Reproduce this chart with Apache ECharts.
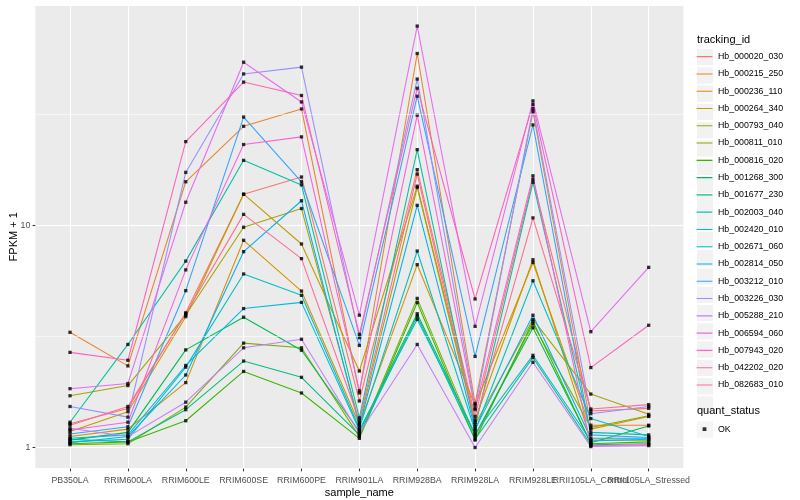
<!DOCTYPE html>
<html><head><meta charset="utf-8">
<script src="https://cdn.jsdelivr.net/npm/echarts@6/dist/echarts.min.js"></script>
<style>html,body{margin:0;padding:0;background:#fff}#c{width:800px;height:500px}</style>
</head><body><div id="c"></div>
<script>
const categories = ["PB350LA","RRIM600LA","RRIM600LE","RRIM600SE","RRIM600PE","RRIM901LA","RRIM928BA","RRIM928LA","RRIM928LE","RRII105LA_Control","RRII105LA_Stressed"];
const trackingIds = ["Hb_000020_030","Hb_000215_250","Hb_000236_110","Hb_000264_340","Hb_000793_040","Hb_000811_010","Hb_000816_020","Hb_001268_300","Hb_001677_230","Hb_002003_040","Hb_002420_010","Hb_002671_060","Hb_002814_050","Hb_003212_010","Hb_003226_030","Hb_005288_210","Hb_006594_060","Hb_007943_020","Hb_042202_020","Hb_082683_010"];
const colors = ["#F8766D","#EA8331","#D89000","#C09B00","#A3A500","#7CAE00","#39B600","#00BB4E","#00BF7D","#00C1A3","#00BFC4","#00BAE0","#00B0F6","#35A2FF","#9590FF","#C77CFF","#E76BF3","#FA62DB","#FF62BC","#FF6C91"];

const hb_000020_030 = [1.28, 1.50, 4.04, 13.8, 16.5, 1.62, 17.8, 1.38, 16.1, 1.46, 1.50];
const hb_000215_250 = [3.30, 2.33, 15.7, 27.9, 33.4, 1.76, 59.3, 1.58, 32.5, 1.26, 1.26];
const hb_000236_110 = [1.12, 1.21, 1.96, 8.56, 5.06, 1.27, 6.65, 1.55, 6.8, 1.21, 1.38];
const hb_000264_340 = [1.18, 1.45, 3.88, 13.8, 8.24, 2.21, 15.0, 1.33, 7.0, 1.08, 1.08];
const hb_000793_040 = [1.71, 1.90, 3.95, 9.8, 11.9, 1.29, 14.8, 1.27, 3.77, 1.74, 1.41];
const hb_000811_010 = [1.03, 1.04, 1.52, 2.95, 2.81, 1.12, 4.69, 1.12, 3.60, 1.23, 1.39];
const hb_000816_020 = [1.04, 1.06, 1.32, 2.20, 1.76, 1.10, 4.49, 1.08, 3.70, 1.04, 1.06];
const hb_001268_300 = [1.08, 1.17, 2.75, 3.86, 2.74, 1.18, 4.0, 1.14, 3.46, 1.05, 1.25];
const hb_001677_230 = [1.09, 1.06, 1.48, 2.45, 2.07, 1.14, 3.9, 1.09, 2.54, 1.03, 1.04];
const hb_002003_040 = [1.30, 2.91, 6.9, 19.6, 15.2, 1.36, 21.9, 1.24, 15.6, 1.17, 1.14];
const hb_002420_010 = [1.06, 1.09, 2.30, 6.04, 4.84, 1.22, 7.66, 1.19, 5.63, 1.35, 1.12];
const hb_002671_060 = [1.10, 1.14, 2.34, 4.22, 4.50, 1.20, 3.77, 1.16, 2.60, 1.07, 1.09];
const hb_002814_050 = [1.05, 1.12, 2.12, 7.61, 12.9, 1.25, 12.3, 1.21, 3.94, 1.10, 1.10];
const hb_003212_010 = [1.15, 1.24, 5.08, 30.7, 15.7, 2.88, 38.1, 2.57, 28.3, 1.14, 1.11];
const hb_003226_030 = [1.53, 1.37, 17.3, 48.0, 51.5, 3.12, 45.5, 1.50, 33.5, 1.42, 1.53];
const hb_005288_210 = [1.22, 1.12, 1.60, 2.81, 3.07, 1.16, 2.91, 1.00, 2.42, 1.01, 1.02];
const hb_006594_060 = [1.84, 1.94, 12.7, 54.2, 35.9, 3.94, 78.8, 3.51, 36.3, 3.32, 6.47];
const hb_007943_020 = [1.20, 1.30, 6.3, 23.1, 25.0, 1.80, 31.3, 1.48, 16.7, 1.02, 1.03];
const hb_042202_020 = [2.68, 2.47, 23.8, 44.1, 38.4, 3.23, 41.4, 4.66, 35.0, 2.29, 3.55];
const hb_082683_010 = [1.26, 1.53, 4.0, 11.2, 7.08, 1.32, 17.0, 1.30, 10.8, 1.49, 1.56];

const yMajorBreaks = [1, 10];
const yMinorBreaks = [Math.sqrt(10), Math.sqrt(1000)];

const seriesValues = [hb_000020_030, hb_000215_250, hb_000236_110, hb_000264_340, hb_000793_040,
  hb_000811_010, hb_000816_020, hb_001268_300, hb_001677_230, hb_002003_040, hb_002420_010,
  hb_002671_060, hb_002814_050, hb_003212_010, hb_003226_030, hb_005288_210, hb_006594_060,
  hb_007943_020, hb_042202_020, hb_082683_010];

const F = "'Liberation Sans', Arial, sans-serif";
const catIdx = categories.map((c, i) => i);
const evenIdx = catIdx.filter(i => i % 2 === 0);
const oddIdx = catIdx.filter(i => i % 2 === 1);

// log-range with ggplot's 5% expansion
const all = [].concat(...seriesValues);
const lo = Math.log10(Math.min(...all)), hi = Math.log10(Math.max(...all));
const pad = (hi - lo) * 0.05;
const yMin = Math.pow(10, lo - pad), yMax = Math.pow(10, hi + pad);

const linePath = 'path://M0,0h0.01v0.01h-0.01zM0.6,8.1h15.8v1.1h-15.8zM17,17.28h-0.01v-0.01h0.01z';
const sqPath = 'path://M0,0h0.01v0.01h-0.01zM6.6,6.74h3.8v3.8h-3.8zM17,17.28h-0.01v-0.01h0.01z';

const legendBase = {orient: 'vertical', left: 696, itemWidth: 17, itemHeight: 17.28, itemGap: 0,
  padding: 0, selectedMode: false, textStyle: {fontSize: 8.8, fontFamily: F, color: '#000'}};
const bgStyle = {color: '#F2F2F2', borderColor: '#fff', borderWidth: 1};

const series = trackingIds.map((id, k) => ({
  type: 'line', name: id, z: 2, silent: true, symbol: 'none',
  data: seriesValues[k].map((v, i) => [i, v]),
  lineStyle: {width: 1.07, color: colors[k]}, itemStyle: {color: colors[k]},
  emphasis: {disabled: true}
}));
series.push({
  type: 'scatter', name: 'OK', z: 3, silent: true, symbol: 'rect', symbolSize: 3.3,
  itemStyle: {color: '#000'},
  data: [].concat(...seriesValues.map(vals => vals.map((v, i) => [i, v])))
});
series.push({
  type: 'line', name: 'minor', z: 1, data: [], silent: true,
  markLine: {silent: true, symbol: 'none', animation: false, label: {show: false},
    lineStyle: {color: '#fff', width: 0.55, type: 'solid'},
    data: yMinorBreaks.map(v => ({yAxis: v}))}
});

const xLabelStyle = {formatter: v => categories[Math.round(v)], color: '#4D4D4D', fontSize: 8.8, margin: 7,
  fontFamily: F, showMinLabel: true, showMaxLabel: true, hideOverlap: false};

const chart = echarts.init(document.getElementById('c'), null, {renderer: 'canvas'});
chart.setOption({
  animation: false,
  textStyle: {fontFamily: F},
  title: [
    {text: 'tracking_id', left: 697, top: 34, padding: 0, textStyle: {fontSize: 11, fontWeight: 'normal', color: '#000', fontFamily: F}},
    {text: 'quant_status', left: 697, top: 405.5, padding: 0, textStyle: {fontSize: 11, fontWeight: 'normal', color: '#000', fontFamily: F}}
  ],
  grid: {left: 35.3, right: 116.6, top: 5, bottom: 31.4, show: true, backgroundColor: '#EBEBEB', borderWidth: 0,
    containLabel: false, outerBoundsMode: 'none'},
  legend: [
    Object.assign({}, legendBase, {top: 48, z: 4, itemStyle: bgStyle,
      textStyle: {fontSize: 8.8, fontFamily: F, color: 'rgba(0,0,0,0)'},
      data: trackingIds.map(n => ({name: n, icon: 'rect'}))}),
    Object.assign({}, legendBase, {top: 48, z: 5, itemStyle: {borderWidth: 0},
      data: trackingIds.map(n => ({name: n, icon: linePath}))}),
    Object.assign({}, legendBase, {top: 420.5, z: 4, itemStyle: bgStyle,
      textStyle: {fontSize: 8.8, fontFamily: F, color: 'rgba(0,0,0,0)'},
      data: [{name: 'OK', icon: 'rect'}]}),
    Object.assign({}, legendBase, {top: 420.5, z: 5, itemStyle: {borderWidth: 0, color: '#000'},
      data: [{name: 'OK', icon: sqPath}]})
  ],
  xAxis: [{
    type: 'value', min: -0.6, max: 10.6, position: 'bottom',
    axisLine: {show: false, onZero: false},
    axisTick: {show: true, length: 2.75, customValues: catIdx, lineStyle: {color: '#333', width: 1.07}},
    axisLabel: Object.assign({customValues: evenIdx}, xLabelStyle),
    splitLine: {show: true, lineStyle: {color: '#fff', width: 1.07}},
    name: 'sample_name', nameLocation: 'middle', nameGap: 19, nameMoveOverlap: false,
    nameTextStyle: {fontSize: 11, color: '#000', fontFamily: F}
  }, {
    type: 'value', min: -0.6, max: 10.6, position: 'bottom', offset: 0,
    axisLine: {show: false, onZero: false},
    axisTick: {show: false},
    axisLabel: Object.assign({customValues: oddIdx}, xLabelStyle),
    splitLine: {show: false}
  }],
  yAxis: {
    type: 'log', logBase: 10, min: yMin, max: yMax, position: 'left',
    axisLine: {show: false, onZero: false},
    axisTick: {show: true, length: 2.75, lineStyle: {color: '#333', width: 1.07}},
    axisLabel: {showMinLabel: false, showMaxLabel: false, color: '#4D4D4D', fontSize: 8.8, margin: 5, fontFamily: F, align: 'right',
      formatter: v => yMajorBreaks.indexOf(Math.round(v)) >= 0 ? String(Math.round(v)) : ''},
    splitLine: {show: true, lineStyle: {color: '#fff', width: 1.07}},
    name: 'FPKM + 1', nameLocation: 'middle', nameGap: 16, nameRotate: 90, nameMoveOverlap: false,
    nameTextStyle: {fontSize: 11, color: '#000', fontFamily: F}
  },
  series: series
});
</script>
</body></html>
